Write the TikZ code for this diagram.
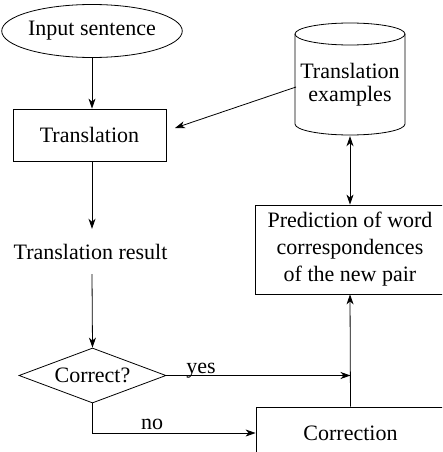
\documentclass[tikz,border=0pt]{standalone}
\usepackage{fontspec}
\setmainfont{Liberation Serif}
\newfontfamily\serf{Liberation Serif}
\usetikzlibrary{shapes.geometric,arrows.meta}
\begin{document}
\begin{tikzpicture}[x=1pt,y=-1pt,
  every node/.style={font=\serf\fontsize{22}{24}\selectfont},
  box/.style={draw, line width=0.8pt, inner sep=0pt},
  conn/.style={line width=0.8pt, -{Stealth[length=10pt,width=7pt,inset=3pt]}},
  dconn/.style={line width=0.8pt, {Stealth[length=10pt,width=7pt,inset=3pt]}-{Stealth[length=10pt,width=7pt,inset=3pt]}},
  plain/.style={line width=0.8pt},
  lbl/.style={anchor=base, inner sep=0pt}
]
\clip (0,0) rectangle (442,452);
\fill[white] (0,0) rectangle (442,452);

% nodes
\node[box, ellipse, minimum width=161, minimum height=53] (inp) at (92,31) {Input sentence};
\node[box, rectangle, minimum width=153, minimum height=52] (trans) at (89.5,135) {Translation};
\node[inner sep=0pt, minimum height=45] (res) at (90.5,251.5) {Translation result};
\node[box, diamond, minimum width=147, minimum height=55, aspect=2.67] (dia) at (92.5,375.5) {Correct?};
\node[box, rectangle, minimum width=190, minimum height=89, align=center,
      font=\serf\fontsize{22}{27}\selectfont] (pred) at (350,249.5)
      {Prediction of word\\correspondences\\of the new pair};
\node[box, rectangle, minimum width=189, minimum height=52] (corr) at (350.5,433) {Correction};

% cylinder
\draw[plain] (350,34) ellipse [x radius=55, y radius=11];
\draw[plain] (295,34) -- (295,124) arc[start angle=180, end angle=0, x radius=55, y radius=11] -- (405,34);
\node[inner sep=0pt, minimum width=110, minimum height=102, align=center,
      font=\serf\fontsize{22}{23}\selectfont] (ex) at (350,85) {Translation\\examples};

\coordinate (tend) at (175,128);
\coordinate (exout) at (296,87);

% connectors
\draw[conn] (inp.south) -- (inp.south |- trans.north);
\draw[conn] (inp.south |- trans.south) -- (inp.south |- res.north);
\draw[conn] (inp.south |- res.south) -- (dia.north);
\draw[conn] (exout) -- (tend);
\draw[dconn] (ex.south) -- (pred.north);
\draw[conn] (corr.north) -- (pred.south);
\draw[conn] (dia.east) -- (dia.east -| corr.north);
\draw[conn] (dia.south) |- (corr.west);

% labels
\node[lbl] (yes) at (201,373) {yes};
\node[lbl] (no) at (152,429) {no};
\end{tikzpicture}
\end{document}
